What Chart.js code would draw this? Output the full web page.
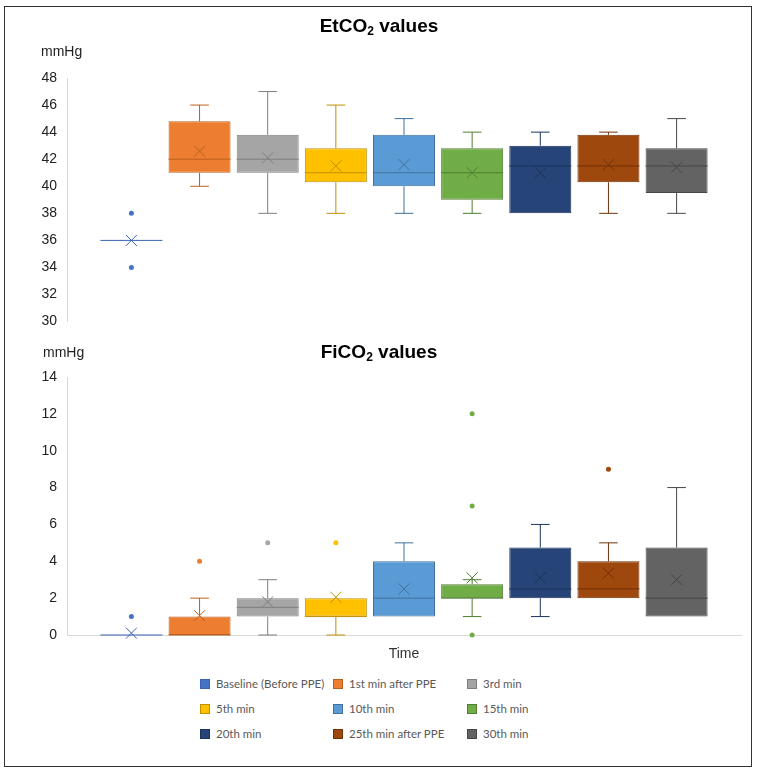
<!DOCTYPE html>
<html>
<head>
<meta charset="utf-8">
<script src="https://cdn.jsdelivr.net/npm/chart.js@4/dist/chart.umd.min.js"></script>
<style>
  body { margin: 0; background: #fff; }
  #page { position: relative; width: 758px; height: 774px; font-family: "Liberation Sans", Arial, sans-serif; }
  #frame { position: absolute; left: 4px; top: 6px; width: 748px; height: 761px; box-sizing: border-box; border: 1.5px solid #333; }
  canvas { position: absolute; left: 0; }
  .title { position: absolute; left: 0; width: 758px; text-align: center; font-weight: bold; font-size: 19px; color: #000; }
  .title sub { font-size: 12px; vertical-align: -3px; }
  .unit { position: absolute; font-size: 14px; color: #222; }
  #legend { position: absolute; left: 0; top: 676px; width: 758px; font-family: Lato, "Open Sans", sans-serif; font-size: 11.5px; color: #595959; }
  .item { position: absolute; height: 16px; line-height: 16px; white-space: nowrap; }
  .swatch { display: inline-block; width: 10px; height: 10px; box-sizing: border-box; border: 1px solid; vertical-align: -1px; margin-right: 6px; }
</style>
</head>
<body>
<div id="page">
  <div id="frame"></div>
  <canvas id="etco2" width="758" height="340" style="top:0"></canvas>
  <canvas id="fico2" width="758" height="330" style="top:340px"></canvas>
  <div class="title" style="top:15px">EtCO<sub>2</sub> values</div>
  <div class="unit" style="left:41px; top:43px">mmHg</div>
  <div class="title" style="top:341px">FiCO<sub>2</sub> values</div>
  <div class="unit" style="left:43px; top:344px">mmHg</div>
  <div id="legend"></div>
</div>
<script>
const seriesNames = ['Baseline (Before PPE)', '1st min after PPE', '3rd min', '5th min', '10th min',
  '15th min', '20th min', '25th min after PPE', '30th min'];
const fillColors = ['#4472C4', '#ED7D31', '#A5A5A5', '#FFC000', '#5B9BD5', '#70AD47', '#264478', '#9E480E', '#636363'];
const lineColors = ['#3A64B0', '#B9611F', '#7F7F7F', '#BF9000', '#41719C', '#507E32', '#1C3359', '#6E320A', '#464646'];

// EtCO2 (mmHg)
const etMin = [36, 40, 38, 38, 38, 38, 38, 38, 38];
const etQ1 = [36, 41, 41, 40.3, 40, 39, 38, 40.3, 39.5];
const etMedian = [36, 42, 42, 41, 41, 41, 41.5, 41.5, 41.5];
const etQ3 = [36, 44.8, 43.8, 42.8, 43.8, 42.8, 43, 43.8, 42.8];
const etMax = [36, 46, 47, 46, 45, 44, 44, 44, 45];
const etMean = [36, 42.6, 42.1, 41.5, 41.6, 41.0, 41.0, 41.6, 41.4];
const etOutliers = [[34, 38], [], [], [], [], [], [], [], []];

// FiCO2 (mmHg)
const fiMin = [0, 0, 0, 0, 1, 1, 1, 2, 1];
const fiQ1 = [0, 0, 1, 1, 1, 2, 2, 2, 1];
const fiMedian = [0, 0, 1.5, 1, 2, 2, 2.5, 2.5, 2];
const fiQ3 = [0, 1, 2, 2, 4, 2.75, 4.75, 4, 4.75];
const fiMax = [0, 2, 3, 2, 5, 3, 6, 5, 8];
const fiMean = [0.1, 1.05, 1.8, 2.05, 2.5, 3.1, 3.1, 3.35, 3.0];
const fiOutliers = [[1], [4], [5], [5], [], [0, 7, 12], [], [9], []];

const categories = ['Time'];

Chart.defaults.font.family = '"Liberation Sans", Arial, sans-serif';
Chart.defaults.color = '#222';

// whiskers, median, mean and outliers on top of the floating bars
const boxExtras = {
    id: 'boxExtras',
    afterDatasetsDraw(chart) {
        const ctx = chart.ctx;
        const py = v => chart.scales.y.getPixelForValue(v);
        chart.data.datasets.forEach((ds, i) => {
            const bar = chart.getDatasetMeta(i).data[0];
            const s = ds.stats;
            const cx = bar.x, half = bar.width / 2, cap = bar.width * 0.15;
            ctx.save();
            ctx.lineWidth = 1;
            ctx.strokeStyle = ds.borderColor;
            [[s.q3, s.max], [s.q1, s.min]].forEach(([from, to]) => {
                if (from === to) return;
                ctx.beginPath();
                ctx.moveTo(cx, py(from)); ctx.lineTo(cx, py(to));
                ctx.moveTo(cx - cap, py(to)); ctx.lineTo(cx + cap, py(to));
                ctx.stroke();
            });
            ctx.beginPath();
            ctx.moveTo(cx - half, py(s.median)); ctx.lineTo(cx + half, py(s.median));
            ctx.stroke();
            const my = py(s.mean), r = 5.5;
            ctx.beginPath();
            ctx.moveTo(cx - r, my - r); ctx.lineTo(cx + r, my + r);
            ctx.moveTo(cx - r, my + r); ctx.lineTo(cx + r, my - r);
            ctx.stroke();
            ctx.fillStyle = ds.backgroundColor;
            s.outliers.forEach(v => {
                ctx.beginPath();
                ctx.arc(cx, py(v), 2.5, 0, Math.PI * 2);
                ctx.fill();
            });
            ctx.restore();
        });
    }
};

function buildDatasets(min, q1, median, q3, max, mean, outliers) {
    return seriesNames.map((name, i) => ({
        label: name,
        data: [[q1[i], q3[i]]],
        backgroundColor: fillColors[i],
        borderColor: lineColors[i],
        borderWidth: 1,
        borderSkipped: false,
        categoryPercentage: 0.91,
        barPercentage: 0.91,
        stats: { min: min[i], q1: q1[i], median: median[i], q3: q3[i], max: max[i], mean: mean[i], outliers: outliers[i] }
    }));
}

function makeChart(id, datasets, yMin, yMax, padding, showX) {
    return new Chart(document.getElementById(id), {
        type: 'bar',
        data: { labels: categories, datasets },
        options: {
            responsive: false,
            animation: false,
            layout: { padding },
            plugins: { legend: { display: false }, tooltip: { enabled: false } },
            scales: {
                x: {
                    display: showX,
                    grid: { display: false, drawTicks: false },
                    border: { display: true, color: '#D9D9D9' },
                    ticks: { padding: 11, color: '#333', font: { size: 14 } },
                    afterFit: (scale) => { scale.height = showX ? 30 : 0; }
                },
                y: {
                    min: yMin, max: yMax,
                    grid: { display: false, drawTicks: false },
                    border: { display: true, color: '#D9D9D9' },
                    ticks: { stepSize: 2, padding: 10, color: '#222', font: { size: 14 } },
                    afterFit: (scale) => { scale.width = 30; }
                }
            }
        },
        plugins: [boxExtras]
    });
}

makeChart('etco2', buildDatasets(etMin, etQ1, etMedian, etQ3, etMax, etMean, etOutliers),
    30, 48, { top: 78, bottom: 15, left: 37, right: 17 }, false);
makeChart('fico2', buildDatasets(fiMin, fiQ1, fiMedian, fiQ3, fiMax, fiMean, fiOutliers),
    0, 14, { top: 37, bottom: 5, left: 37, right: 17 }, true);

// legend, 3 columns
const legendCols = [200, 333, 467];
const legendRows = [684, 709, 734];
document.getElementById('legend').innerHTML = seriesNames.map((name, i) => {
    const left = legendCols[i % 3], top = legendRows[Math.floor(i / 3)] - 676 - 8;
    return `<div class="item" style="left:${left}px; top:${top}px"><span class="swatch" style="background:${fillColors[i]}; border-color:${lineColors[i]}"></span>${name}</div>`;
}).join('');
</script>
</body>
</html>
